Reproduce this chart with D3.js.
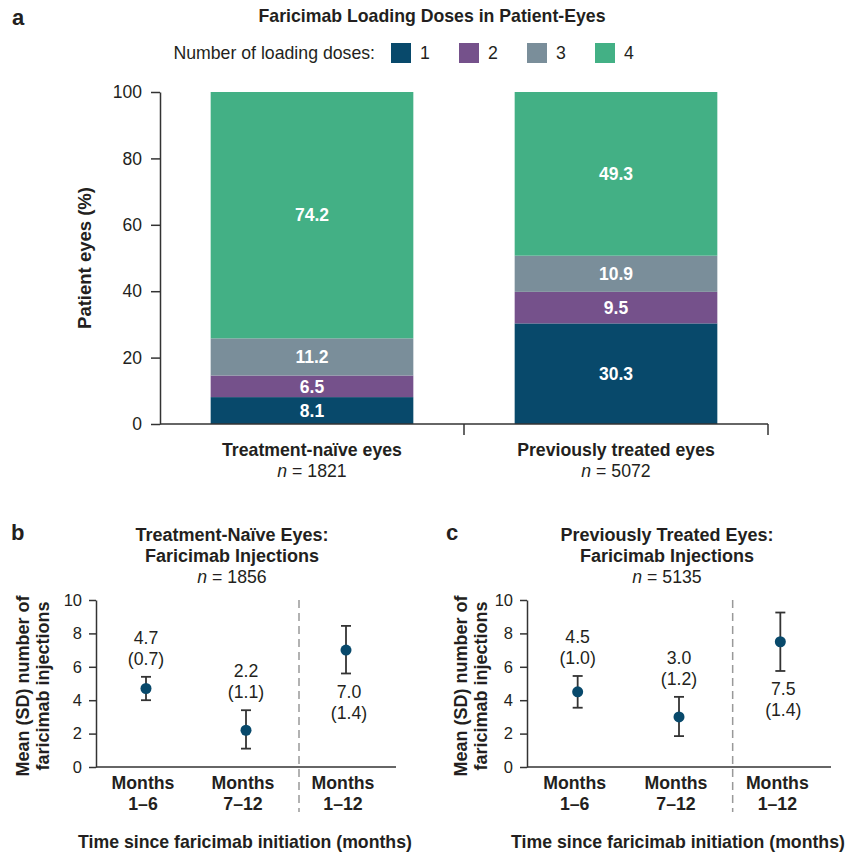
<!DOCTYPE html>
<html>
<head>
<meta charset="utf-8">
<title>Faricimab loading doses and injections</title>
<script src="https://cdn.jsdelivr.net/npm/d3@7/dist/d3.min.js"></script>
<style type="text/css">
	body { margin: 0; background: #fff; }
	svg { font-family: "Liberation Sans", Arial, sans-serif; fill: #231f20; }
	.axis path, .axis line { stroke: #333; stroke-width: 1.5px; }
	.axis text { fill: #231f20; }
	.bold { font-weight: bold; }
</style>
</head>
<body>
<script type="text/javascript">

// panel a data
var groups = ["Treatment-naïve eyes", "Previously treated eyes"];
var groupN = ["1821", "5072"];
var doseKeys = ["1", "2", "3", "4"];
var doseColors = ["#08496b", "#75518b", "#7a8e9a", "#43b085"];
var dose1 = [8.1, 30.3];
var dose2 = [6.5, 9.5];
var dose3 = [11.2, 10.9];
var dose4 = [74.2, 49.3];
var pctTicks = [0, 20, 40, 60, 80, 100];

// panels b and c data
var periods = [["Months", "1–6"], ["Months", "7–12"], ["Months", "1–12"]];
var naiveMean = [4.7, 2.2, 7.0];
var naiveSD = ["0.7", "1.1", "1.4"];
var naiveLow = [4.0, 1.1, 5.6];
var naiveHigh = [5.4, 3.4, 8.45];
var prevMean = [4.5, 3.0, 7.5];
var prevSD = ["1.0", "1.2", "1.4"];
var prevLow = [3.55, 1.85, 5.75];
var prevHigh = [5.45, 4.2, 9.25];
var injTicks = [0, 2, 4, 6, 8, 10];

var width = 847, height = 855;
var fs = "17.7px";
var svg = d3.select("body").append("svg").attr("width", width).attr("height", height);

// ---------- panel a ----------
svg.append("text").attr("class", "bold").attr("x", 12).attr("y", 25)
	.style("font-size", "22px").text("a");
svg.append("text").attr("class", "bold").attr("x", 432).attr("y", 22)
	.attr("text-anchor", "middle").style("font-size", fs)
	.text("Faricimab Loading Doses in Patient-Eyes");

var legend = svg.append("g");
legend.append("text").attr("x", 375).attr("y", 53).attr("dy", "0.35em")
	.attr("text-anchor", "end").style("font-size", fs).text("Number of loading doses:");
doseKeys.forEach(function(k, i) {
	var lx = 391 + i * 68;
	legend.append("rect").attr("x", lx).attr("y", 43).attr("width", 20).attr("height", 20)
		.attr("fill", doseColors[i]);
	legend.append("text").attr("x", lx + 29).attr("y", 53).attr("dy", "0.35em")
		.style("font-size", fs).text(k);
});

var x = d3.scaleBand().domain(groups).range([160, 768]).paddingInner(1/3).paddingOuter(1/6);
var y = d3.scaleLinear().domain([0, 100]).range([424, 92]);

var rows = groups.map(function(g, i) {
	return { group: g, "1": dose1[i], "2": dose2[i], "3": dose3[i], "4": dose4[i] };
});
var stacked = d3.stack().keys(doseKeys)(rows);

var layers = svg.append("g").selectAll("g").data(stacked).enter().append("g")
	.attr("fill", function(d, i) { return doseColors[i]; });
layers.selectAll("rect").data(function(d) { return d; }).enter().append("rect")
	.attr("x", function(d) { return x(d.data.group); })
	.attr("width", x.bandwidth())
	.attr("y", function(d) { return y(Math.min(d[1], 100)); })
	.attr("height", function(d) { return y(d[0]) - y(Math.min(d[1], 100)); });
layers.selectAll("text").data(function(d) { return d; }).enter().append("text")
	.attr("class", "bold")
	.attr("x", function(d) { return x(d.data.group) + x.bandwidth() / 2; })
	.attr("y", function(d) { return (y(d[0]) + y(Math.min(d[1], 100))) / 2; })
	.attr("dy", "0.36em").attr("text-anchor", "middle")
	.style("font-size", "17.5px").style("fill", "#fff")
	.text(function(d) { return (d[1] - d[0]).toFixed(1); });

svg.append("g").attr("class", "axis").attr("transform", "translate(160,0)")
	.call(d3.axisLeft(y).tickValues(pctTicks).tickSize(9).tickPadding(9).tickSizeOuter(0))
	.call(function(g) { g.selectAll("text").style("font-size", "17.5px").style("font-family", null); });

// x axis with ticks at group boundaries
var xa = svg.append("g").attr("class", "axis");
xa.append("line").attr("x1", 160).attr("x2", 768).attr("y1", 424).attr("y2", 424);
groups.forEach(function(g) {
	var bx = x(g) + x.bandwidth() + (x.step() - x.bandwidth()) / 2;
	xa.append("line").attr("x1", bx).attr("x2", bx).attr("y1", 424).attr("y2", 435);
});
groups.forEach(function(g, i) {
	var cx = x(g) + x.bandwidth() / 2;
	svg.append("text").attr("class", "bold").attr("x", cx).attr("y", 450).attr("dy", "0.35em")
		.attr("text-anchor", "middle").style("font-size", fs).text(g);
	var t = svg.append("text").attr("x", cx).attr("y", 471).attr("dy", "0.35em")
		.attr("text-anchor", "middle").style("font-size", fs);
	t.append("tspan").style("font-style", "italic").text("n");
	t.append("tspan").text(" = " + groupN[i]);
});

svg.append("text").attr("class", "bold")
	.attr("transform", "translate(85,258) rotate(-90)")
	.attr("dy", "0.35em").attr("text-anchor", "middle").style("font-size", "18.5px")
	.text("Patient eyes (%)");

// ---------- panels b and c ----------
function drawPanel(p) {
	var g = svg.append("g");
	g.append("text").attr("class", "bold").attr("x", p.letterX).attr("y", 540)
		.style("font-size", "22px").text(p.letter);
	p.title.forEach(function(line, i) {
		g.append("text").attr("class", "bold").attr("x", p.titleX).attr("y", 535 + i * 21)
			.attr("dy", "0.35em").attr("text-anchor", "middle").style("font-size", "18px").text(line);
	});
	var nt = g.append("text").attr("x", p.titleX).attr("y", 577).attr("dy", "0.35em")
		.attr("text-anchor", "middle").style("font-size", fs);
	nt.append("tspan").style("font-style", "italic").text("n");
	nt.append("tspan").text(" = " + p.n);

	var xs = d3.scaleBand().domain(periods.map(function(d) { return d.join(" "); }))
		.range([p.x0, p.x1]);
	var ys = d3.scaleLinear().domain([0, 10]).range([767, 600]);
	var cx = function(i) { return xs(periods[i].join(" ")) + xs.bandwidth() / 2; };

	g.append("g").attr("class", "axis").attr("transform", "translate(" + p.x0 + ",0)")
		.call(d3.axisLeft(ys).tickValues(injTicks).tickSize(7).tickPadding(7).tickSizeOuter(0))
		.call(function(a) { a.selectAll("text").style("font-size", "16.5px").style("font-family", null); });
	g.append("line").attr("class", "axis").attr("x1", p.x0).attr("x2", p.x1)
		.attr("y1", 767).attr("y2", 767).style("stroke", "#333").style("stroke-width", 1.5);

	var dx = xs(periods[2].join(" ")) + 3;
	g.append("line").attr("x1", dx).attr("x2", dx).attr("y1", 600).attr("y2", 812)
		.style("stroke", "#999").style("stroke-width", 1.5).style("stroke-dasharray", "8,5");

	periods.forEach(function(lab, i) {
		lab.forEach(function(line, j) {
			g.append("text").attr("class", "bold").attr("x", cx(i) - 3).attr("y", 783 + j * 21)
				.attr("dy", "0.35em").attr("text-anchor", "middle").style("font-size", fs).text(line);
		});
		var px = cx(i);
		g.append("line").attr("x1", px).attr("x2", px).attr("y1", ys(p.low[i])).attr("y2", ys(p.high[i]))
			.style("stroke", "#333").style("stroke-width", 1.8);
		[p.low[i], p.high[i]].forEach(function(v) {
			g.append("line").attr("x1", px - 5).attr("x2", px + 5).attr("y1", ys(v)).attr("y2", ys(v))
				.style("stroke", "#333").style("stroke-width", 1.8);
		});
		g.append("circle").attr("cx", px).attr("cy", ys(p.mean[i])).attr("r", 5.5).attr("fill", "#08496b");
		var lines = [p.mean[i].toFixed(1), "(" + p.sd[i] + ")"];
		var y0 = i < 2 ? ys(p.high[i]) - 39 : ys(p.low[i]) + 18;
		lines.forEach(function(t, j) {
			g.append("text").attr("x", px + (i < 2 ? 0 : 3)).attr("y", y0 + j * 21).attr("dy", "0.35em")
				.attr("text-anchor", "middle").style("font-size", fs).text(t);
		});
	});

	g.append("text").attr("class", "bold").attr("x", p.xTitleX).attr("y", 842).attr("dy", "0.35em")
		.attr("text-anchor", "middle").style("font-size", fs)
		.text("Time since faricimab initiation (months)");
	["Mean (SD) number of", "faricimab injections"].forEach(function(line, i) {
		g.append("text").attr("class", "bold")
			.attr("transform", "translate(" + (p.yTitleX + i * 20) + ",686) rotate(-90)")
			.attr("dy", "0.35em").attr("text-anchor", "middle").style("font-size", "18px").text(line);
	});
}

drawPanel({ letter: "b", letterX: 11, title: ["Treatment-Naïve Eyes:", "Faricimab Injections"],
	titleX: 232, n: "1856", x0: 96, x1: 396, mean: naiveMean, sd: naiveSD,
	low: naiveLow, high: naiveHigh, xTitleX: 245, yTitleX: 23 });
drawPanel({ letter: "c", letterX: 446, title: ["Previously Treated Eyes:", "Faricimab Injections"],
	titleX: 667, n: "5135", x0: 527, x1: 831, mean: prevMean, sd: prevSD,
	low: prevLow, high: prevHigh, xTitleX: 678, yTitleX: 461 });

</script>
</body>
</html>
